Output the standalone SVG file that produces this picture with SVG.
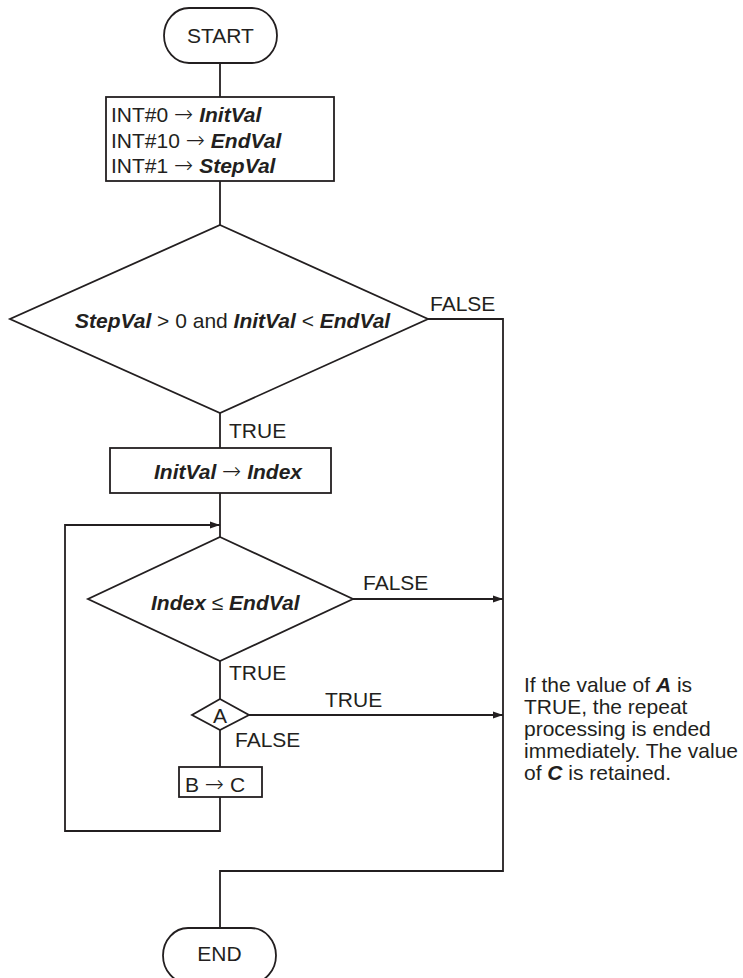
<svg xmlns="http://www.w3.org/2000/svg" width="743" height="978" viewBox="0 0 743 978">
<defs>
<marker id="arr" viewBox="0 0 10 10" refX="10" refY="5" markerWidth="10" markerHeight="10" markerUnits="userSpaceOnUse" orient="auto">
<path d="M0,1.5 L10,5 L0,8.5 Z" fill="#231f20"/>
</marker>
<style>
.s{fill:#fff;stroke:#231f20;stroke-width:1.8}
.c{fill:none;stroke:#231f20;stroke-width:1.8}
text{font-family:"Liberation Sans",Arial,sans-serif;font-size:21px;fill:#231f20}
.b{font-weight:bold;font-style:italic}
.a{font-family:"DejaVu Sans",sans-serif;font-weight:200;font-size:23px}
.m{text-anchor:middle}
</style>
</defs>
<rect width="743" height="978" fill="#fff"/>
<g id="connectors">
<path class="c" d="M220,63 V97"/>
<path class="c" d="M220,181 V225"/>
<path class="c" d="M220,413 V448"/>
<path class="c" d="M220,493 V537"/>
<path class="c" d="M220,661 V699"/>
<path class="c" d="M220,730 V767"/>
<path class="c" d="M220,797 V831 H65 V525 H220" marker-end="url(#arr)"/>
<path class="c" d="M428,319 H503 V871 H220 V928"/>
<path class="c" d="M353,599 H503" marker-end="url(#arr)"/>
<path class="c" d="M249,715 H503" marker-end="url(#arr)"/>
<text x="430" y="311">FALSE</text>
<text x="229" y="438">TRUE</text>
<text x="363" y="590">FALSE</text>
<text x="229" y="680">TRUE</text>
<text x="325" y="707">TRUE</text>
<text x="235" y="747">FALSE</text>
</g>
<g id="start">
<rect class="s" x="164" y="8" width="113" height="55" rx="25" ry="27.5"/>
<text class="m" x="220.5" y="43">START</text>
</g>
<g id="init">
<rect class="s" x="106" y="97" width="228" height="84"/>
<text x="111" y="122">INT#0 <tspan class="a">→</tspan> <tspan class="b">InitVal</tspan></text>
<text x="111" y="148">INT#10 <tspan class="a">→</tspan> <tspan class="b">EndVal</tspan></text>
<text x="111" y="173">INT#1 <tspan class="a">→</tspan> <tspan class="b">StepVal</tspan></text>
</g>
<g id="cond1">
<polygon class="s" points="220,225 428,319 220,413 10,319"/>
<text x="75" y="328"><tspan class="b">StepVal</tspan> &gt; 0 and <tspan class="b">InitVal</tspan> &lt; <tspan class="b">EndVal</tspan></text>
</g>
<g id="assign">
<rect class="s" x="110" y="448" width="221" height="45"/>
<text x="154" y="479"><tspan class="b">InitVal</tspan> <tspan class="a">→</tspan> <tspan class="b">Index</tspan></text>
</g>
<g id="cond2">
<polygon class="s" points="220,537 353,599 220,661 88,599"/>
<text x="151" y="610"><tspan class="b">Index</tspan> ≤ <tspan class="b">EndVal</tspan></text>
</g>
<g id="condA">
<polygon class="s" points="220,699 249,715 220,730 192,715"/>
<text class="m" x="220" y="723">A</text>
</g>
<g id="bc">
<rect class="s" x="179" y="767" width="83" height="30"/>
<text x="185" y="792">B <tspan class="a">→</tspan> C</text>
</g>
<g id="end">
<rect class="s" x="163" y="928" width="113" height="55" rx="25" ry="27.5"/>
<text class="m" x="219.5" y="961">END</text>
</g>
<g id="note">
<text x="524" y="692">If the value of <tspan class="b">A</tspan> is</text>
<text x="524" y="714">TRUE, the repeat</text>
<text x="524" y="736">processing is ended</text>
<text x="524" y="758">immediately. The value</text>
<text x="524" y="780">of <tspan class="b">C</tspan> is retained.</text>
</g>
</svg>
